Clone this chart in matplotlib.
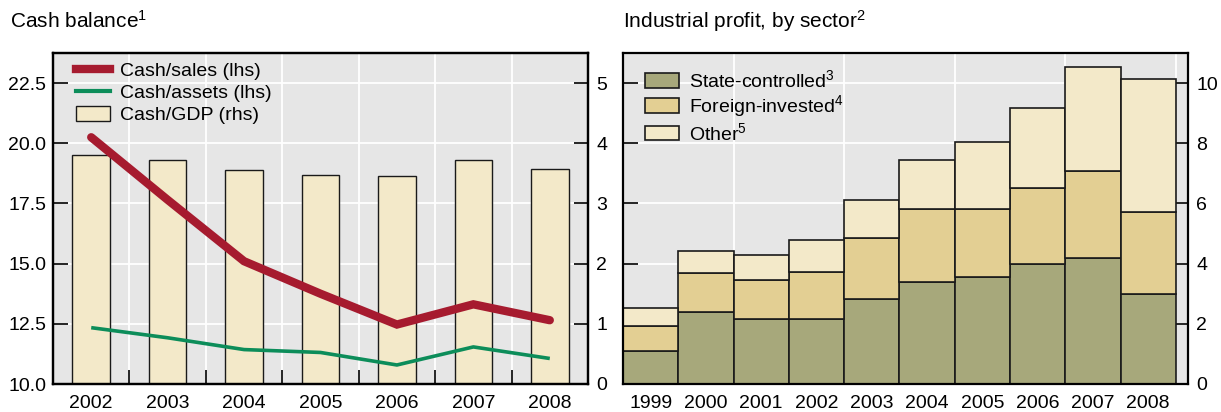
import matplotlib
matplotlib.use('Agg')
import matplotlib.pyplot as plt
import numpy as np
from matplotlib.lines import Line2D
from matplotlib.patches import Patch

plt.rcParams['font.family'] = ['Liberation Sans', 'DejaVu Sans']
plt.rcParams['mathtext.fontset'] = 'custom'
plt.rcParams['mathtext.rm'] = 'Liberation Sans'
plt.rcParams['mathtext.it'] = 'Liberation Sans:italic'
plt.rcParams['mathtext.bf'] = 'Liberation Sans:bold'

# ---------------- data ----------------
years_left = ['2002', '2003', '2004', '2005', '2006', '2007', '2008']
cash_sales = [20.25, 17.65, 15.10, 13.75, 12.47, 13.31, 12.65]
cash_assets = [12.34, 11.92, 11.43, 11.31, 10.79, 11.54, 11.06]
cash_gdp = [3.80, 3.73, 3.55, 3.48, 3.45, 3.72, 3.57]

years_right = ['1999', '2000', '2001', '2002', '2003', '2004', '2005', '2006', '2007', '2008']
state_controlled = [1.10, 2.40, 2.16, 2.17, 2.81, 3.40, 3.54, 3.98, 4.18, 2.99]
foreign_invested = [0.84, 1.29, 1.30, 1.56, 2.04, 2.41, 2.26, 2.55, 2.91, 2.74]
other = [0.60, 0.72, 0.84, 1.07, 1.27, 1.63, 2.25, 2.64, 3.44, 4.41]

left_ticks = [10.0, 12.5, 15.0, 17.5, 20.0, 22.5]
left_rticks = [0, 1, 2, 3, 4, 5]
right_ticks = [0, 2, 4, 6, 8, 10]

# ---------------- style ----------------
BG = '#e6e6e6'
RED = '#a61b2f'
GREEN = '#0c8d5a'
CREAM = '#f3e9c9'
STATE = '#a7a87b'
FOREIGN = '#e3cf93'
EDGE = '#1a1a1a'
FS = 14

fig = plt.figure(figsize=(12.21, 4.12), dpi=100)

# ---------------- left panel ----------------
axL_bg = fig.add_axes([53/1221, 28/412, 535/1221, 331/412])
axL = axL_bg.twinx()
axL_bg.set_zorder(0)
axL.set_zorder(1)
axL.patch.set_visible(False)
axL_bg.patch.set_visible(True)
axL_bg.set_facecolor(BG)

xl = np.arange(len(years_left))
for xb in xl[:-1] + 0.5:
    axL_bg.axvline(xb, color='white', lw=1.3, zorder=0.5)
for yv in left_rticks[1:]:
    axL_bg.axhline(yv, color='white', lw=1.3, zorder=0.5)
axL_bg.bar(xl, cash_gdp, width=0.49, color=CREAM, edgecolor=EDGE, linewidth=1.0, zorder=2)
axL_bg.set_ylim(0, 5.5)
axL_bg.set_xlim(-0.5, len(years_left) - 0.5)

axL.plot(xl, cash_sales, color=RED, lw=6, solid_capstyle='round', solid_joinstyle='miter', zorder=3)
axL.plot(xl, cash_assets, color=GREEN, lw=2.6, solid_capstyle='butt', zorder=3)
axL.set_ylim(10, 23.75)

axL_bg.yaxis.tick_right()
axL.yaxis.tick_left()
axL_bg.set_yticks(left_rticks)
axL_bg.set_yticklabels([str(v) for v in left_rticks])
axL.set_yticks(left_ticks)
axL.set_yticklabels(['%.1f' % v for v in left_ticks])

axL_bg.tick_params(axis='y', direction='in', length=10, width=1.2, pad=6, labelsize=FS, right=True, left=False, labelright=True, labelleft=False)
axL.tick_params(axis='y', direction='in', length=11, width=1.2, pad=5, labelsize=FS, left=True, right=False, labelleft=True, labelright=False)

axL_bg.set_xticks(xl)
axL_bg.set_xticklabels(years_left)
axL_bg.set_xticks(xl[:-1] + 0.5, minor=True)
axL_bg.tick_params(axis='x', which='major', length=0, pad=8, labelsize=FS)
axL_bg.tick_params(axis='x', which='minor', direction='in', length=10, width=1.2)

for a in (axL, axL_bg):
    for s in a.spines.values():
        s.set_linewidth(1.6)
        s.set_color('black')

leg_handles = [
    Line2D([], [], color=RED, lw=6),
    Line2D([], [], color=GREEN, lw=3),
    Patch(facecolor=CREAM, edgecolor=EDGE, linewidth=1.0),
]
axL.legend(leg_handles, ['Cash/sales (lhs)', 'Cash/assets (lhs)', 'Cash/GDP (rhs)'],
           loc='upper left', bbox_to_anchor=(23/535, 1 - 9/331), frameon=False,
           fontsize=FS, borderaxespad=0, borderpad=0, handlelength=1.75,
           handleheight=0.8, handletextpad=0.5, labelspacing=0.2)

# ---------------- right panel ----------------
axR = fig.add_axes([623/1221, 28/412, 565/1221, 331/412])
axR.set_facecolor(BG)
axR.set_axisbelow(True)
xr = np.arange(len(years_right))
for xb in xr[1::2] + 0.5:
    axR.axvline(xb, color='white', lw=1.3, zorder=0.5)
for yv in right_ticks[1:]:
    axR.axhline(yv, color='white', lw=1.3, zorder=0.5)

s_arr = np.array(state_controlled)
f_arr = np.array(foreign_invested)
o_arr = np.array(other)
axR.bar(xr, s_arr, width=1.0, color=STATE, edgecolor=EDGE, linewidth=1.2, zorder=2,
        label='State-controlled$^3$')
axR.bar(xr, f_arr, bottom=s_arr, width=1.0, color=FOREIGN, edgecolor=EDGE, linewidth=1.2, zorder=2,
        label='Foreign-invested$^4$')
axR.bar(xr, o_arr, bottom=s_arr + f_arr, width=1.0, color=CREAM, edgecolor=EDGE, linewidth=1.2, zorder=2,
        label='Other$^5$')
axR.set_xlim(-0.5, len(years_right) - 0.5 + 0.22)
axR.set_ylim(0, 11)
axR.set_xticks(xr)
axR.set_xticklabels(years_right)
axR.tick_params(axis='x', length=0, pad=8, labelsize=FS)
axR.set_yticks(right_ticks)
axR.set_yticklabels([str(v) for v in right_ticks])
axR.tick_params(axis='y', direction='in', length=11, width=1.2, pad=6, labelsize=FS,
                left=True, right=True, labelleft=False, labelright=True)
for s in axR.spines.values():
    s.set_linewidth(1.6)
    s.set_color('black')

axR.legend(loc='upper left', bbox_to_anchor=(22/565, 1 - 16/331), frameon=False,
           fontsize=FS, borderaxespad=0, borderpad=0, handlelength=1.75,
           handleheight=0.8, handletextpad=0.5, labelspacing=0.13)

# ---------------- titles ----------------
fig.text(10/1221, 1 - 28/412, 'Cash balance$^1$', fontsize=15, ha='left', va='baseline')
fig.text(623/1221, 1 - 28/412, 'Industrial profit, by sector$^2$', fontsize=15, ha='left', va='baseline')

fig.savefig('out.png', dpi=100)
